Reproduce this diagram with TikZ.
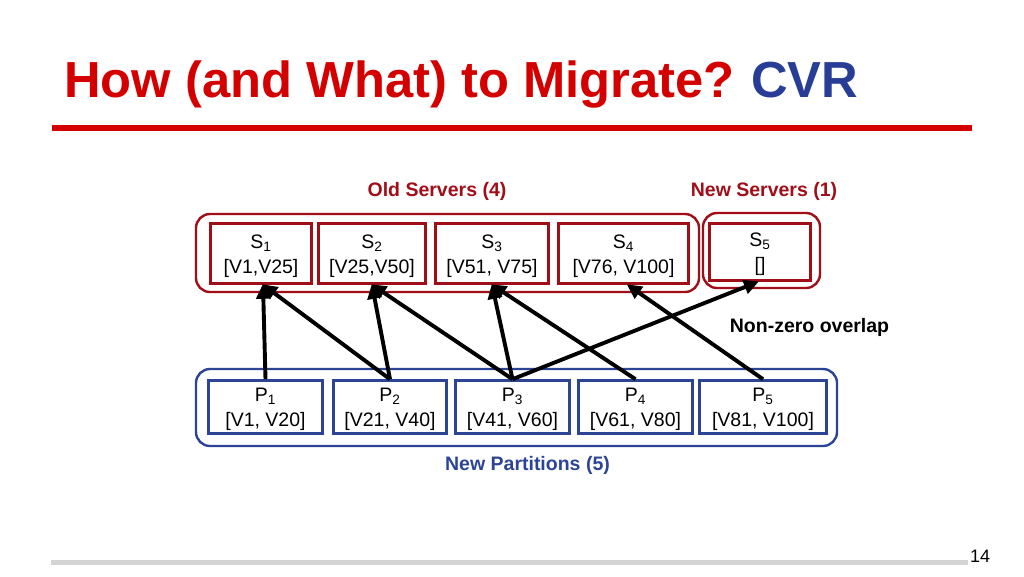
\documentclass[tikz,border=0pt]{standalone}
\usepackage{fontspec}
\setmainfont{Liberation Sans}
\usetikzlibrary{arrows.meta}
\definecolor{titlered}{RGB}{212,0,0}
\definecolor{titleblue}{RGB}{40,62,150}
\definecolor{boxred}{RGB}{160,14,24}
\definecolor{boxblue}{RGB}{44,68,148}
\definecolor{bargray}{RGB}{212,212,212}
\tikzset{
  txt/.style={font=\fontsize{19.5}{25}\selectfont, align=center, inner sep=0pt},
  boxtext/.style={label={[txt,yshift=-2.5pt]center:{#1}}},
  sbox/.style={draw=boxred, line width=2.6pt, inner sep=0pt},
  pbox/.style={draw=boxblue, line width=2.6pt, inner sep=0pt},
  outred/.style={draw=boxred, line width=2.4pt, rounded corners=14pt, inner sep=0pt},
  outblue/.style={draw=boxblue, line width=2.4pt, rounded corners=14pt, inner sep=0pt},
  lbl/.style={font=\fontsize{19.5}{24}\selectfont\bfseries, inner sep=0pt},
  arr/.style={line width=3.9pt, -{Triangle[length=15pt,width=14pt]}, shorten >=-1pt}
}
\begin{document}
\begin{tikzpicture}[x=1pt,y=-1pt]
\useasboundingbox (0,0) rectangle (1024,576);
% title
\node[anchor=base west, inner sep=0pt, font=\fontsize{50.7}{56}\selectfont\bfseries, text=titlered] (title) at (64,97) {How (and What) to Migrate?\hspace{-2pt} \textcolor{titleblue}{CVR}};
\draw[titlered, line width=6pt] (51.5,128) -- (972,128);
% old / new server groups
\node[outred, minimum width=503pt, minimum height=78pt] (oldgrp) at (447.5,253) {};
\node[outred, minimum width=117pt, minimum height=75pt] (newgrp) at (761.5,250.5) {};
\node[lbl, text=boxred] (oldlbl) at (437,191) {Old Servers (4)};
\node[lbl, text=boxred] (newlbl) at (764,191) {New Servers (1)};
% servers
\node[sbox, minimum width=101pt, minimum height=60pt, boxtext={S\textsubscript{1}\\{[V1,V25]}}] (S1) at (261,253.5) {};
\node[sbox, minimum width=107pt, minimum height=60pt, boxtext={S\textsubscript{2}\\{[V25,V50]}}] (S2) at (372,253.5) {};
\node[sbox, minimum width=113pt, minimum height=60pt, boxtext={S\textsubscript{3}\\{[V51, V75]}}] (S3) at (492,253.5) {};
\node[sbox, minimum width=130pt, minimum height=60pt, boxtext={S\textsubscript{4}\\{[V76, V100]}}] (S4) at (623.5,253.5) {};
\node[sbox, minimum width=101pt, minimum height=57pt, boxtext={S\textsubscript{5}\\{[]}}] (S5) at (760,252) {};
% partitions
\node[outblue, minimum width=641pt, minimum height=77pt] (pgrp) at (516.5,407.5) {};
\node[pbox, minimum width=114pt, minimum height=53pt, boxtext={P\textsubscript{1}\\{[V1, V20]}}] (P1) at (265.5,407) {};
\node[pbox, minimum width=113pt, minimum height=53pt, boxtext={P\textsubscript{2}\\{[V21, V40]}}] (P2) at (390,407) {};
\node[pbox, minimum width=114pt, minimum height=53pt, boxtext={P\textsubscript{3}\\{[V41, V60]}}] (P3) at (512.5,407) {};
\node[pbox, minimum width=114pt, minimum height=53pt, boxtext={P\textsubscript{4}\\{[V61, V80]}}] (P4) at (635.5,407) {};
\node[pbox, minimum width=127pt, minimum height=53pt, boxtext={P\textsubscript{5}\\{[V81, V100]}}] (P5) at (763,407) {};
\node[lbl, text=boxblue] (plbl) at (527.5,465) {New Partitions (5)};
\node[lbl] (nzo) at (809.5,327) {Non-zero overlap};
% arrows
\coordinate (s1t) at ([xshift=2pt]S1.south);
\coordinate (s4t) at ([xshift=4pt]S4.south);
\coordinate (s5t) at ([xshift=-2pt]S5.south);
\draw[arr] (P1.north) -- (s1t);
\draw[arr] (P2.north) -- (s1t);
\draw[arr] (P2.north) -- (S2.south);
\draw[arr] (P3.north) -- (S2.south);
\draw[arr] (P3.north) -- (S3.south);
\draw[arr] (P3.north) -- (s5t);
\draw[arr] (P4.north) -- (S3.south);
\draw[arr] (P5.north) -- (s4t);
% footer
\draw[bargray, line width=5pt] (51,562.5) -- (968,562.5);
\node[inner sep=0pt, font=\fontsize{18}{20}\selectfont] (pnum) at (980,556) {14};
\end{tikzpicture}
\end{document}
